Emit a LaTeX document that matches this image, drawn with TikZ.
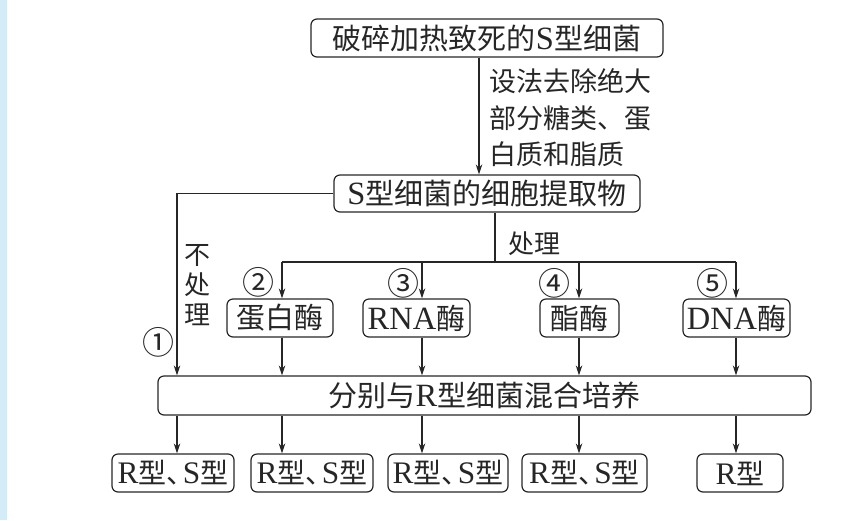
\documentclass[tikz,border=0pt]{standalone}
\usepackage{fontspec}
\setmainfont{Liberation Serif}[Scale=1.12]
\newfontfamily\cjk{Noto Sans CJK SC}
\usetikzlibrary{arrows.meta}
\newcommand\La[1]{{\rmfamily #1}}
\newcommand\dun{、\kern-0.42em}
\definecolor{ink}{HTML}{262626}
\definecolor{strip}{HTML}{D4ECF8}
\tikzset{
  box/.style={draw=ink, line width=1.2pt, rounded corners=6pt, inner sep=0pt,
    text=ink, font=\cjk\fontsize{29}{34}\selectfont},
  res/.style={box, font=\cjk\fontsize{28}{32}\selectfont},
  lbl/.style={inner sep=0pt, text=ink, font=\cjk\fontsize{26}{30}\selectfont},
  num/.style={inner sep=0pt, text=ink, font=\cjk\fontsize{32}{34}\selectfont},
  conn/.style={draw=ink, line width=1.2pt},
  arr/.style={conn, -{Stealth[length=10pt,width=6.5pt]}},
}
\begin{document}
\begin{tikzpicture}[x=1pt,y=-1pt]
\useasboundingbox (0,0) rectangle (858,520);
\fill[strip] (0,0) rectangle (7,520);

% column coordinates
\coordinate (ca) at (479,0);
\coordinate (cb) at (495,0);
\coordinate (c1) at (177,0);
\coordinate (c2) at (282,0);
\coordinate (c3) at (422,0);
\coordinate (c4) at (579,0);
\coordinate (c5) at (736,0);
\coordinate (br) at (0,262);

% nodes
\node[box, minimum width=352pt, minimum height=38pt] (top) at (487,38) {破碎加热致死的\La{S}型细菌};
\node[box, minimum width=306pt, minimum height=37pt] (ext) at (487,193.5) {\La{S}型细菌的细胞提取物};
\node[lbl, anchor=west, align=left, font=\cjk\fontsize{27}{36.5}\selectfont] (rm) at (489,118) {设法去除绝大\\部分糖类、蛋\\白质和脂质};
\node[lbl] (cl) at (534,244) {处理};
\node[lbl, align=center, font=\cjk\fontsize{26}{30}\selectfont] (nt) at (197,285) {不\\处\\理};

\node[box, minimum width=106pt, minimum height=38pt] (e2) at (280,318) {蛋白酶};
\node[box, minimum width=107pt, minimum height=38pt] (e3) at (416.5,318) {\La{RNA}酶};
\node[box, minimum width=79pt, minimum height=38pt] (e4) at (579.5,318) {酯酶};
\node[box, minimum width=107pt, minimum height=38pt] (e5) at (736.5,318) {\La{DNA}酶};

\node[num] (n1) at (158,342) {①};
\node[num] (n2) at (258,282) {②};
\node[num] (n3) at (403,283) {③};
\node[num] (n4) at (554,283) {④};
\node[num] (n5) at (712,283) {⑤};

\node[box, minimum width=653pt, minimum height=39pt] (mix) at (484.5,395.5) {分别与\La{R}型细菌混合培养};

\node[res, minimum width=122pt, minimum height=38pt] (r1) at (173,473) {\La{R}型\dun\La{S}型};
\node[res, minimum width=122pt, minimum height=38pt] (r2) at (312,473) {\La{R}型\dun\La{S}型};
\node[res, minimum width=120pt, minimum height=38pt] (r3) at (448,473) {\La{R}型\dun\La{S}型};
\node[res, minimum width=125pt, minimum height=38pt] (r4) at (584.5,473) {\La{R}型\dun\La{S}型};
\node[res, minimum width=86pt, minimum height=38pt] (r5) at (740,473) {\La{R}型};

% connectors
\draw[arr] (top.south -| ca) -- (ext.north -| ca);
\draw[arr] (ext.west) -| (mix.north -| c1);
\draw[conn] (ext.south -| cb) -- (br -| cb);
\draw[conn] (br -| c2) -- (br -| c5);
\foreach \c/\e in {c2/e2, c3/e3, c4/e4, c5/e5}{
  \draw[arr] (br -| \c) -- (\e.north -| \c);
  \draw[arr] (\e.south -| \c) -- (mix.north -| \c);
}
\foreach \c/\r in {c1/r1, c2/r2, c3/r3, c4/r4, c5/r5}{
  \draw[arr] (mix.south -| \c) -- (\r.north -| \c);
}
\end{tikzpicture}
\end{document}
